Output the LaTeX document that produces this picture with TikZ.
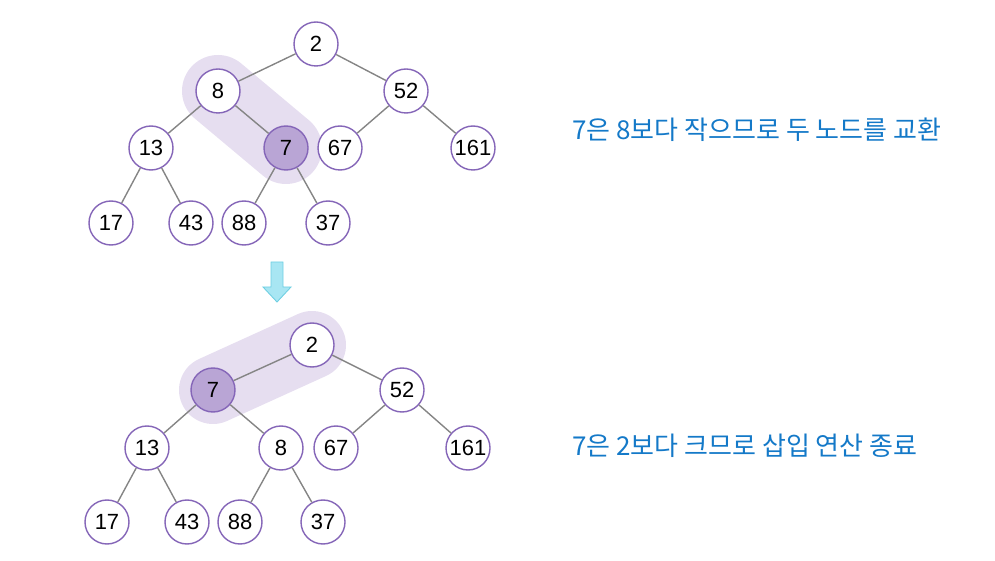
\documentclass[tikz,border=0pt]{standalone}
\usepackage{fontspec}
\setmainfont{Liberation Sans}
\newfontfamily\kr{Noto Sans CJK KR}
\usetikzlibrary{positioning,backgrounds}
\definecolor{ring}{HTML}{8566B8}
\definecolor{hot}{HTML}{B9A5D5}
\definecolor{band}{HTML}{E6DEF0}
\definecolor{edge}{HTML}{858585}
\definecolor{note}{HTML}{1479C8}
\definecolor{arrfill}{HTML}{A8E6F3}
\definecolor{arrline}{HTML}{6FCFE2}

\begin{document}
\begin{tikzpicture}[every node/.style={font=\fontsize{12.5}{14}\selectfont}]
  \tikzset{k/.style={circle,draw=ring,line width=0.8pt,fill=white,minimum size=0.88cm,inner sep=0pt},
           hk/.style={k,fill=hot},
           e/.style={draw=edge,line width=0.8pt},
           msg/.style={anchor=west,text=note,font=\kr\fontsize{14.8}{17}\selectfont}}
  \useasboundingbox (0,0) rectangle (19.9,11.2);
  % before the swap
  \node[k] (t2) at (6.32,10.32) {2};
  \node[k] (t8) at (4.36,9.38) {8};
  \node[k] (t52) at (8.12,9.38) {52};
  \node[k] (t13) at (3.02,8.24) {13};
  \node[hk] (t7) at (5.72,8.24) {7};
  \node[k] (t67) at (6.80,8.24) {67};
  \node[k] (t161) at (9.46,8.24) {161};
  \node[k] (t17) at (2.22,6.74) {17};
  \node[k] (t43) at (3.82,6.74) {43};
  \node[k] (t88) at (4.88,6.74) {88};
  \node[k] (t37) at (6.56,6.74) {37};
  \draw[e] (t2)--(t8);
  \draw[e] (t2)--(t52);
  \draw[e] (t8)--(t13);
  \draw[e] (t8)--(t7);
  \draw[e] (t52)--(t67);
  \draw[e] (t52)--(t161);
  \draw[e] (t13)--(t17);
  \draw[e] (t13)--(t43);
  \draw[e] (t7)--(t88);
  \draw[e] (t7)--(t37);
  \begin{pgfonlayer}{background}
    \draw[band,line width=1.44cm,line cap=round] (t8.center)--(t7.center);
  \end{pgfonlayer}
  \node[msg] (m1) at (11.32,8.6) {7은 8보다 작으므로 두 노드를 교환};
  % down arrow
  \draw[arrline,fill=arrfill,line width=0.5pt]
    (5.42,5.96)--(5.66,5.96)--(5.66,5.46)--(5.82,5.46)--(5.54,5.16)--(5.26,5.46)--(5.42,5.46)--cycle;
  % after the swap
  \node[k] (b2) at (6.24,4.30) {2};
  \node[hk] (b7) at (4.26,3.40) {7};
  \node[k] (b52) at (8.04,3.40) {52};
  \node[k] (b13) at (2.94,2.24) {13};
  \node[k] (b8) at (5.62,2.24) {8};
  \node[k] (b67) at (6.72,2.24) {67};
  \node[k] (b161) at (9.36,2.24) {161};
  \node[k] (b17) at (2.14,0.76) {17};
  \node[k] (b43) at (3.74,0.76) {43};
  \node[k] (b88) at (4.80,0.76) {88};
  \node[k] (b37) at (6.46,0.76) {37};
  \draw[e] (b2)--(b7);
  \draw[e] (b2)--(b52);
  \draw[e] (b7)--(b13);
  \draw[e] (b7)--(b8);
  \draw[e] (b52)--(b67);
  \draw[e] (b52)--(b161);
  \draw[e] (b13)--(b17);
  \draw[e] (b13)--(b43);
  \draw[e] (b8)--(b88);
  \draw[e] (b8)--(b37);
  \begin{pgfonlayer}{background}
    \draw[band,line width=1.36cm,line cap=round] (b7.center)--(b2.center);
  \end{pgfonlayer}
  \node[msg] (m2) at (11.32,2.28) {7은 2보다 크므로 삽입 연산 종료};
\end{tikzpicture}
\end{document}
